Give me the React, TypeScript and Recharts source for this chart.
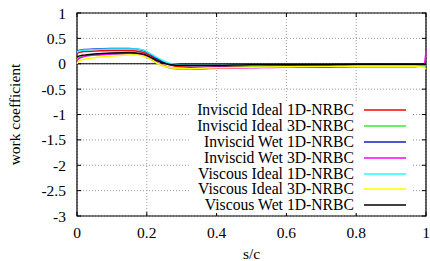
import { LineChart, Line, XAxis, YAxis, CartesianGrid, ReferenceLine, ReferenceArea, Legend } from 'recharts';

// s/c stations shared by every series
const sc = [0, 0.005, 0.02, 0.05, 0.1, 0.15, 0.17, 0.19, 0.21, 0.23, 0.25, 0.27, 0.3, 0.35, 0.4, 0.5, 0.6, 0.7, 0.8, 0.9, 0.97, 0.995, 1];

const inviscidIdeal1D = [0.2, 0.22, 0.24, 0.25, 0.26, 0.26, 0.25, 0.22, 0.16, 0.08, 0.02, -0.03, -0.06, -0.07, -0.06, -0.05, -0.05, -0.04, -0.04, -0.03, -0.03, -0.03, -0.03];
const inviscidIdeal3D = [0.08, 0.12, 0.15, 0.17, 0.19, 0.2, 0.19, 0.16, 0.09, 0.01, -0.05, -0.09, -0.11, -0.1, -0.08, -0.06, -0.05, -0.05, -0.04, -0.04, -0.04, -0.04, -0.05];
const inviscidWet1D = [0.22, 0.26, 0.28, 0.29, 0.3, 0.3, 0.29, 0.26, 0.19, 0.1, 0.03, -0.01, -0.03, -0.04, -0.04, -0.03, -0.03, -0.03, -0.02, -0.02, -0.02, -0.02, -0.02];
const inviscidWet3D = [0.06, 0.1, 0.14, 0.17, 0.19, 0.2, 0.2, 0.17, 0.1, 0.02, -0.04, -0.08, -0.1, -0.1, -0.09, -0.08, -0.07, -0.07, -0.06, -0.06, -0.06, 0.0, 0.25];
const viscousIdeal1D = [0.22, 0.25, 0.27, 0.28, 0.29, 0.29, 0.29, 0.27, 0.2, 0.12, 0.05, 0.0, -0.02, -0.03, -0.03, -0.03, -0.02, -0.02, -0.02, -0.02, -0.02, -0.02, -0.02];
const viscousIdeal3D = [0.0, 0.05, 0.09, 0.12, 0.15, 0.17, 0.17, 0.15, 0.09, 0.01, -0.05, -0.08, -0.1, -0.09, -0.08, -0.07, -0.06, -0.05, -0.05, -0.05, -0.05, -0.08, -0.1];
const viscousWet1D = [0.13, 0.15, 0.17, 0.19, 0.21, 0.22, 0.21, 0.19, 0.13, 0.06, 0.01, -0.02, -0.03, -0.03, -0.03, -0.02, -0.02, -0.02, -0.01, -0.01, -0.01, -0.01, -0.01];

const seriesNames = [
    'Inviscid Ideal 1D-NRBC',
    'Inviscid Ideal 3D-NRBC',
    'Inviscid Wet 1D-NRBC',
    'Inviscid Wet 3D-NRBC',
    'Viscous Ideal 1D-NRBC',
    'Viscous Ideal 3D-NRBC',
    'Viscous Wet 1D-NRBC',
];
const seriesValues = [inviscidIdeal1D, inviscidIdeal3D, inviscidWet1D, inviscidWet3D, viscousIdeal1D, viscousIdeal3D, viscousWet1D];
const seriesColors = ['#ff0000', '#33ee33', '#1a1acc', '#ff00ff', '#22ffff', '#ffff00', '#000000'];

const xTicks = [0, 0.2, 0.4, 0.6, 0.8, 1];
const yTicks = [-3, -2.5, -2, -1.5, -1, -0.5, 0, 0.5, 1];

const FONT = '"Liberation Serif", "DejaVu Serif", serif';

const data = sc.map((x, i) => {
    const row: Record<string, number> = { x };
    seriesNames.forEach((name, s) => { row[name] = seriesValues[s][i]; });
    return row;
});

// key box, opaque like gnuplot's
const KeyBox = () => (
    <div style={{ background: '#fff', width: 222, fontFamily: FONT, fontSize: 15.7, color: '#000' }}>
        {seriesNames.map((name, s) => (
            <div key={name} style={{ display: 'flex', alignItems: 'center', height: 15.9 }}>
                <span style={{ width: 164, textAlign: 'right', whiteSpace: 'nowrap', lineHeight: '15.9px' }}>{name}</span>
                <svg width={42} height={4} style={{ marginLeft: 10, display: 'block' }}>
                    <line x1={0} y1={2} x2={42} y2={2} stroke={seriesColors[s]} strokeWidth={1.5} />
                </svg>
            </div>
        ))}
    </div>
);

const App = () => {
    return (
        <div>
            <style>{'body{margin:0}'}</style>
            <LineChart width={430} height={261} data={data} margin={{ top: 13, right: 4, left: 0, bottom: 0 }}>
                <CartesianGrid stroke="#999" strokeDasharray="1 2" />
                <XAxis
                    dataKey="x"
                    type="number"
                    domain={[0, 1]}
                    ticks={xTicks}
                    tickLine={false}
                    axisLine={false}
                    tickSize={0}
                    tickMargin={11}
                    height={45}
                    tick={{ fill: '#000', fontSize: 15.5, fontFamily: FONT }}
                    label={{ value: 's/c', position: 'insideBottom', offset: 2, fill: '#000', fontSize: 15.5, fontFamily: FONT }}
                />
                <YAxis
                    type="number"
                    domain={[-3, 1]}
                    ticks={yTicks}
                    tickLine={false}
                    axisLine={false}
                    tickSize={0}
                    tickMargin={11}
                    width={77}
                    tick={{ fill: '#000', fontSize: 15.5, fontFamily: FONT }}
                    label={{ value: 'work coefficient', angle: -90, position: 'insideLeft', offset: 14, fill: '#000', fontSize: 15.5, fontFamily: FONT, style: { textAnchor: 'middle' } }}
                />

                {/* zero axis */}
                <ReferenceLine y={0} stroke="#000" strokeWidth={1.2} />

                {/* inner tick marks */}
                {yTicks.map((t) => (
                    <ReferenceLine key={`yl${t}`} segment={[{ x: 0, y: t }, { x: 0.012, y: t }]} stroke="#000" />
                ))}
                {yTicks.map((t) => (
                    <ReferenceLine key={`yr${t}`} segment={[{ x: 0.988, y: t }, { x: 1, y: t }]} stroke="#000" />
                ))}
                {xTicks.map((t) => (
                    <ReferenceLine key={`xb${t}`} segment={[{ x: t, y: -3 }, { x: t, y: -2.92 }]} stroke="#000" />
                ))}
                {xTicks.map((t) => (
                    <ReferenceLine key={`xt${t}`} segment={[{ x: t, y: 0.92 }, { x: t, y: 1 }]} stroke="#000" />
                ))}

                {seriesNames.map((name, s) => (
                    <Line
                        key={name}
                        type="monotone"
                        dataKey={name}
                        stroke={seriesColors[s]}
                        strokeWidth={1.5}
                        dot={false}
                        isAnimationActive={false}
                    />
                ))}

                <ReferenceArea x1={0} x2={1} y1={-3} y2={1} fill="none" stroke="#000" strokeWidth={1.2} ifOverflow="visible" />

                <Legend
                    layout="vertical"
                    align="center"
                    verticalAlign="middle"
                    content={KeyBox}
                    wrapperStyle={{ position: 'absolute', left: 190, top: 102, width: 222 }}
                />
            </LineChart>
        </div>
    );
};

export default App;
